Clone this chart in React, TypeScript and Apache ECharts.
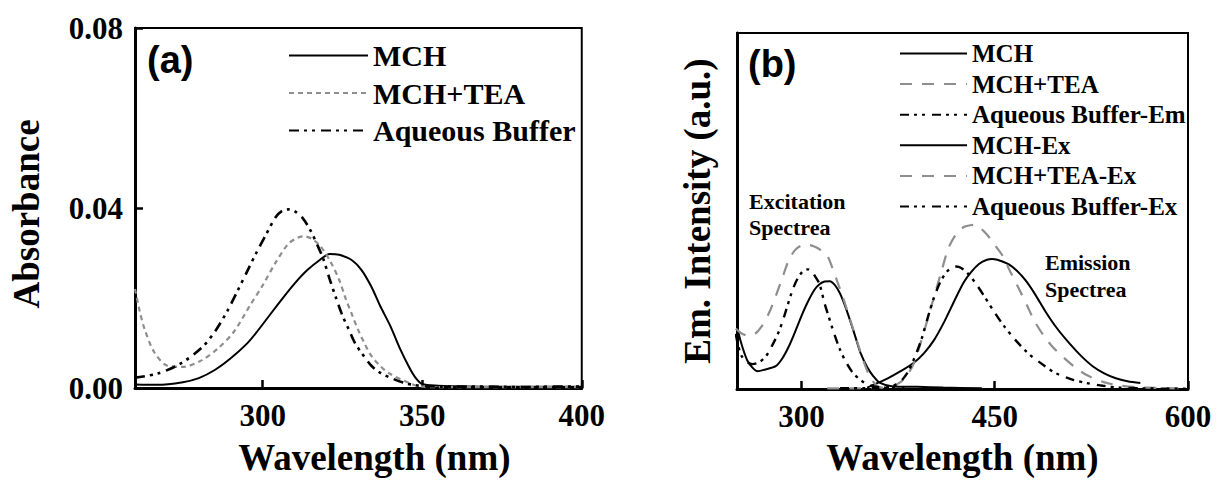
import React, { useEffect, useRef } from "react";
import * as echarts from "echarts";

// ---------- Panel (a): absorbance ----------
const absXTicks = [300, 350, 400];

const absMchX = [260, 267, 275, 280, 285, 290, 295, 298, 302, 306, 310, 314, 318, 321, 324, 328, 331, 334, 337, 340, 343, 346, 348, 350, 355, 360, 370, 380, 390, 400];
const absMchY = [0.0008, 0.0007, 0.0013, 0.0022, 0.004, 0.0066, 0.0098, 0.0123, 0.016, 0.0197, 0.0232, 0.0262, 0.0285, 0.0298, 0.0296, 0.0284, 0.0262, 0.0226, 0.018, 0.0138, 0.0088, 0.0045, 0.0022, 0.0009, 0.0005, 0.0004, 0.0003, 0.0003, 0.0003, 0.0003];

const absTeaX = [260, 261.5, 263, 266, 270, 275, 281, 286, 291, 296, 300, 304, 308, 311, 313, 315.5, 318, 321, 324, 326, 328, 330, 332, 334, 337, 340, 345, 349, 355, 360, 380, 400];
const absTeaY = [0.022, 0.017, 0.0131, 0.008, 0.005, 0.0047, 0.0062, 0.0088, 0.0125, 0.0183, 0.0228, 0.0278, 0.032, 0.0334, 0.0337, 0.0331, 0.0316, 0.0284, 0.024, 0.0199, 0.0163, 0.0128, 0.0098, 0.0072, 0.0048, 0.0031, 0.0014, 0.0004, 0.0002, 0.0002, 0.0002, 0.0002];

const absAqX = [260, 267, 274, 281, 285, 289, 292, 295, 298, 301, 304, 306, 308, 310, 312.5, 315, 317, 319, 321, 323, 325, 327, 329, 331, 334, 337, 340, 344, 348, 352, 356, 360, 370, 380, 390, 400];
const absAqY = [0.0023, 0.0032, 0.0053, 0.009, 0.0125, 0.0172, 0.0214, 0.0257, 0.03, 0.034, 0.0379, 0.0393, 0.0397, 0.0393, 0.0378, 0.035, 0.032, 0.0287, 0.0242, 0.02, 0.0161, 0.013, 0.0099, 0.0078, 0.005, 0.0033, 0.0023, 0.0012, 0.0006, 0.0004, 0.0003, 0.0003, 0.0003, 0.0002, 0.0003, 0.0003];

const absNames = ["MCH", "MCH+TEA", "Aqueous Buffer"];

// ---------- Panel (b): fluorescence ----------
const flXTicks = [300, 450, 600];

const exMchX = [249, 251, 254, 258, 262, 266, 272, 280, 285, 290, 295, 300, 305, 310, 314, 318, 322, 326, 330, 334, 338, 342, 346, 351, 356, 361, 370, 390, 410, 440];
const exMchY = [0.2, 0.16, 0.12, 0.08, 0.06, 0.05, 0.055, 0.064, 0.085, 0.118, 0.16, 0.205, 0.245, 0.278, 0.294, 0.302, 0.303, 0.292, 0.268, 0.232, 0.19, 0.145, 0.1, 0.062, 0.035, 0.017, 0.008, 0.006, 0.004, 0.002];

const exAqX = [249, 251, 254, 258, 262, 267, 272, 277, 283, 288, 293, 297, 301, 305, 308, 311, 314, 318, 321, 325, 330, 335, 340, 346, 351, 356, 362, 370, 380];
const exAqY = [0.155, 0.12, 0.09, 0.075, 0.07, 0.075, 0.09, 0.12, 0.166, 0.22, 0.277, 0.31, 0.33, 0.336, 0.33, 0.314, 0.295, 0.24, 0.205, 0.16, 0.11, 0.073, 0.045, 0.025, 0.013, 0.008, 0.004, 0.003, 0.003];

const exTeaX = [249, 254, 259, 264, 269, 275, 280, 285, 290, 295, 300, 305, 310, 315, 320, 324, 328, 332, 336, 340, 344, 348, 353, 357, 361, 365];
const exTeaY = [0.17, 0.155, 0.15, 0.155, 0.175, 0.215, 0.26, 0.31, 0.36, 0.39, 0.403, 0.405, 0.4, 0.39, 0.375, 0.34, 0.3, 0.26, 0.215, 0.17, 0.125, 0.08, 0.036, 0.015, 0.004, 0.002];

const emMchX = [351, 358, 367, 377, 387, 395, 403, 411, 419, 426, 432, 438, 444, 448, 452, 456, 461, 467, 474, 481, 489, 498, 508, 517, 526, 535, 544, 553, 563];
const emMchY = [0.004, 0.015, 0.03, 0.05, 0.073, 0.1, 0.138, 0.19, 0.25, 0.3, 0.33, 0.352, 0.363, 0.365, 0.363, 0.358, 0.35, 0.333, 0.305, 0.268, 0.22, 0.172, 0.128, 0.093, 0.064, 0.044, 0.03, 0.022, 0.017];

const emTeaX = [320, 340, 360, 368, 375, 380, 387, 395, 403, 409, 414, 420, 426, 431, 434, 437, 441, 446, 451, 456, 462, 469, 475, 481, 488, 495, 503, 512, 521, 534, 547, 560, 575, 590, 600];
const emTeaY = [0.002, 0.002, 0.003, 0.006, 0.015, 0.03, 0.07, 0.16, 0.26, 0.335, 0.395, 0.435, 0.455, 0.46, 0.461, 0.458, 0.445, 0.425, 0.4, 0.375, 0.33, 0.28, 0.235, 0.19, 0.15, 0.118, 0.09, 0.062, 0.04, 0.02, 0.01, 0.005, 0.003, 0.002, 0.002];

const emAqX = [330, 350, 365, 372, 378, 383, 388, 393, 398, 403, 408, 413, 417, 420, 424, 429, 435, 442, 449, 457, 466, 476, 486, 497, 509, 521, 534, 547, 565, 585, 600];
const emAqY = [0.002, 0.002, 0.004, 0.01, 0.025, 0.05, 0.09, 0.138, 0.2, 0.258, 0.302, 0.33, 0.342, 0.344, 0.34, 0.325, 0.298, 0.26, 0.22, 0.178, 0.138, 0.1, 0.072, 0.045, 0.028, 0.017, 0.009, 0.004, 0.002, 0.001, 0.001];

const flNames = ["MCH", "MCH+TEA", "Aqueous Buffer-Em", "MCH-Ex", "MCH+TEA-Ex", "Aqueous Buffer-Ex"];

// ---------- helpers ----------
const SERIF = "'Liberation Serif', 'Times New Roman', serif";
const SANS = "'Liberation Sans', Arial, sans-serif";
const GRAY = "#8e8e8e";

const zip = (xs: number[], ys: number[]) => xs.map((x, i) => [x, ys[i]]);

const lineSeries = (name: string, xs: number[], ys: number[], color: string, type: any, width: number) => ({
  name,
  type: "line",
  data: zip(xs, ys),
  symbol: "none",
  showSymbol: false,
  smooth: 0.3,
  lineStyle: { color, type, width },
  itemStyle: { color },
  z: 3,
});

const tickLabel = { fontFamily: SERIF, fontWeight: "bold", fontSize: 31, color: "#000" };
const axisName = { fontFamily: SERIF, fontWeight: "bold", fontSize: 37, color: "#000" };

const dashA = [5, 4];
const dddA = [10, 5, 3, 5, 3, 6];
const dashB = [12, 10];
const dddB = [9, 5, 3, 5, 3, 7];

const optionA = {
  animation: false,
  grid: { left: 135, top: 28, width: 450, height: 365, show: true, borderColor: "#000", borderWidth: 2, backgroundColor: "transparent" },
  xAxis: {
    type: "value",
    min: 260,
    max: 400,
    name: "Wavelength (nm)",
    nameLocation: "middle",
    nameGap: 51,
    nameTextStyle: { ...axisName, padding: [0, 0, 0, 32] },
    axisLine: { lineStyle: { color: "#000", width: 3 } },
    axisTick: { inside: true, length: 8, lineStyle: { color: "#000", width: 2.5 }, customValues: absXTicks },
    axisLabel: { ...tickLabel, margin: 12, customValues: absXTicks },
    splitLine: { show: false },
  },
  yAxis: {
    type: "value",
    min: 0,
    max: 0.08,
    interval: 0.04,
    name: "Absorbance",
    nameLocation: "middle",
    nameGap: 90,
    nameTextStyle: { ...axisName, padding: [0, 12, 0, 0] },
    axisLine: { show: true, lineStyle: { color: "#000", width: 3 } },
    axisTick: { show: true, inside: true, length: 8, lineStyle: { color: "#000", width: 2.5 } },
    axisLabel: { ...tickLabel, margin: 12, formatter: (v: number) => v.toFixed(2) },
    splitLine: { show: false },
  },
  legend: {
    data: absNames,
    orient: "vertical",
    left: 283,
    top: 35,
    itemWidth: 79,
    itemHeight: 14,
    itemGap: 6.5,
    selectedMode: false,
    itemStyle: { opacity: 0 },
    textStyle: { fontFamily: SERIF, fontWeight: "bold", fontSize: 30, lineHeight: 31, color: "#000" },
  },
  graphic: [
    { type: "text", left: 147, top: 41, style: { text: "(a)", font: `bold 38px ${SANS}`, fill: "#000" } },
  ],
  series: [
    lineSeries(absNames[0], absMchX, absMchY, "#000", "solid", 2),
    lineSeries(absNames[1], absTeaX, absTeaY, GRAY, dashA, 2.2),
    lineSeries(absNames[2], absAqX, absAqY, "#000", dddA, 2.6),
  ],
};

const optionB = {
  animation: false,
  grid: { left: 129, top: 33, width: 451, height: 360, show: true, borderColor: "#000", borderWidth: 2, backgroundColor: "transparent" },
  xAxis: {
    type: "value",
    min: 250,
    max: 600,
    name: "Wavelength (nm)",
    nameLocation: "middle",
    nameGap: 50,
    nameTextStyle: axisName,
    axisLine: { lineStyle: { color: "#000", width: 3 } },
    axisTick: { inside: true, length: 8, lineStyle: { color: "#000", width: 2.5 }, customValues: flXTicks },
    axisLabel: { ...tickLabel, margin: 12, customValues: flXTicks },
    splitLine: { show: false },
  },
  yAxis: {
    type: "value",
    min: 0,
    max: 1,
    name: "Em. Intensity (a.u.)",
    nameLocation: "middle",
    nameGap: 21,
    nameTextStyle: axisName,
    axisLine: { show: true, lineStyle: { color: "#000", width: 3 } },
    axisTick: { show: false },
    axisLabel: { show: false },
    splitLine: { show: false },
  },
  legend: {
    data: flNames,
    orient: "vertical",
    left: 286,
    top: 36,
    itemWidth: 67,
    itemHeight: 12,
    itemGap: 5.6,
    selectedMode: false,
    itemStyle: { opacity: 0 },
    textStyle: { fontFamily: SERIF, fontWeight: "bold", fontSize: 25, lineHeight: 25, color: "#000" },
  },
  graphic: [
    { type: "text", left: 140, top: 45, style: { text: "(b)", font: `bold 38px ${SANS}`, fill: "#000" } },
    { type: "text", left: 141, top: 188, style: { text: "Excitation\nSpectrea", font: `bold 22px ${SERIF}`, lineHeight: 26, fill: "#000" } },
    { type: "text", left: 437, top: 249, style: { text: "Emission\nSpectrea", font: `bold 22px ${SERIF}`, lineHeight: 27, fill: "#000" } },
  ],
  series: [
    lineSeries(flNames[0], emMchX, emMchY, "#000", "solid", 2),
    lineSeries(flNames[1], emTeaX, emTeaY, GRAY, dashB, 2.2),
    lineSeries(flNames[2], emAqX, emAqY, "#000", dddB, 2.4),
    lineSeries(flNames[3], exMchX, exMchY, "#000", "solid", 2),
    lineSeries(flNames[4], exTeaX, exTeaY, GRAY, dashB, 2.2),
    lineSeries(flNames[5], exAqX, exAqY, "#000", dddB, 2.4),
  ],
};

function Chart({ option, style }: { option: any; style: React.CSSProperties }) {
  const ref = useRef<HTMLDivElement>(null);
  useEffect(() => {
    if (!ref.current) return;
    const chart = echarts.init(ref.current, null, { renderer: "svg" });
    chart.setOption(option);
    return () => chart.dispose();
  }, [option]);
  return <div ref={ref} style={style} />;
}

export default function App() {
  return (
    <div style={{ position: "fixed", left: 0, top: 0, width: 1217, height: 481, background: "#fff" }}>
      <Chart option={optionA} style={{ position: "absolute", left: 0, top: 0, width: 608, height: 481 }} />
      <Chart option={optionB} style={{ position: "absolute", left: 608, top: 0, width: 609, height: 481 }} />
    </div>
  );
}
